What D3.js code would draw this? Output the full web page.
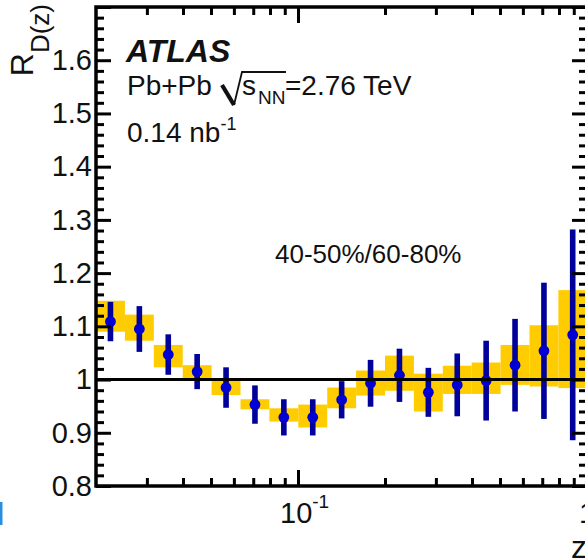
<!DOCTYPE html>
<html>
<head>
<meta charset="utf-8">
<script src="https://cdn.jsdelivr.net/npm/d3@7"></script>
<style>
  html, body { margin: 0; padding: 0; background: #fff; overflow: hidden; }
  svg { display: block; }
  text { font-family: "Liberation Sans", Arial, Helvetica, sans-serif; fill: #111; }
</style>
</head>
<body>
<svg id="chart" width="585" height="560"></svg>
<script>
// Bin edges in z (0.1-decade logarithmic bins)
const zEdges = [0.02, 0.02518, 0.0317, 0.03991, 0.05024, 0.06325, 0.07962, 0.10024,
                0.12619, 0.15887, 0.2, 0.25179, 0.31698, 0.39905, 0.50238, 0.63246, 0.79621, 1.0];
// R_D(z) central values, 40-50% / 60-80%
const ratio   = [1.109, 1.095, 1.047, 1.015, 0.985, 0.953, 0.929, 0.929, 0.962,
                 0.993, 1.008, 0.976, 0.990, 0.998, 1.027, 1.054, 1.084];
// Statistical uncertainty (symmetric)
const statErr = [0.037, 0.043, 0.038, 0.033, 0.038, 0.036, 0.034, 0.034, 0.035,
                 0.044, 0.050, 0.046, 0.059, 0.075, 0.087, 0.128, 0.198];
// Systematic band, lower and upper bounds
const sysLow  = [1.090, 1.073, 1.023, 1.001, 0.971, 0.944, 0.921, 0.910, 0.946,
                 0.970, 0.979, 0.940, 0.973, 0.973, 0.990, 0.987, 0.984];
const sysHigh = [1.148, 1.122, 1.065, 1.027, 0.998, 0.963, 0.946, 0.953, 0.985,
                 1.017, 1.045, 1.011, 1.026, 1.032, 1.065, 1.102, 1.168];

// Axis ticks
const yMajorTicks = [0.8, 0.9, 1.0, 1.1, 1.2, 1.3, 1.4, 1.5, 1.6, 1.7];
const yTickLabels = ["0.8", "0.9", "1", "1.1", "1.2", "1.3", "1.4", "1.5", "1.6"];
const xMajorTicks = [0.1, 1];
const xMinorTicks = [0.03, 0.04, 0.05, 0.06, 0.07, 0.08, 0.09,
                     0.2, 0.3, 0.4, 0.5, 0.6, 0.7, 0.8, 0.9];

const svg = d3.select("#chart");
svg.append("rect").attr("width", 585).attr("height", 560).attr("fill", "#fff");

const x = d3.scaleLog().domain([0.02, 1]).range([96, 587]);
const y = d3.scaleLinear().domain([0.8, 1.7]).range([486, 7]);

const yMinorTicks = d3.range(0, 46).map(i => +(0.8 + i * 0.02).toFixed(2))
  .filter(v => !yMajorTicks.some(m => Math.abs(m - v) < 1e-6));

const bins = ratio.map((v, i) => ({
  lo: zEdges[i], hi: zEdges[i + 1],
  zc: Math.sqrt(zEdges[i] * zEdges[i + 1]),
  v, e: statErr[i], sl: sysLow[i], sh: sysHigh[i]
}));

const plot = svg.append("g");

// systematic boxes
plot.selectAll("rect.sys").data(bins).join("rect")
  .attr("class", "sys")
  .attr("x", d => x(d.lo))
  .attr("width", d => x(d.hi) - x(d.lo))
  .attr("y", d => y(d.sh))
  .attr("height", d => y(d.sl) - y(d.sh))
  .attr("fill", "#ffcc00");

// statistical error bars
plot.selectAll("rect.err").data(bins).join("rect")
  .attr("class", "err")
  .attr("x", d => x(d.zc) - 2.8)
  .attr("width", 5.6)
  .attr("y", d => y(d.v + d.e))
  .attr("height", d => y(d.v - d.e) - y(d.v + d.e))
  .attr("fill", "#00009a");

// markers
plot.selectAll("circle.pt").data(bins).join("circle")
  .attr("class", "pt")
  .attr("cx", d => x(d.zc))
  .attr("cy", d => y(d.v))
  .attr("r", 5.4)
  .attr("fill", "#0000d2");

// unity reference line
plot.append("line")
  .attr("x1", x(0.02)).attr("x2", x(1))
  .attr("y1", y(1)).attr("y2", y(1))
  .attr("stroke", "#000").attr("stroke-width", 3);

// axes (ticks drawn inward on all four sides)
function styleAxis(g) {
  g.select(".domain").remove();
  g.selectAll(".tick line").attr("stroke", "#000").attr("stroke-width", 3);
}
const axes = svg.append("g");
axes.append("g").attr("transform", `translate(${x(0.02)},0)`)
  .call(d3.axisLeft(y).tickValues(yMinorTicks).tickSize(-8).tickFormat(""))
  .call(styleAxis);
const yLeft = axes.append("g").attr("transform", `translate(${x(0.02)},0)`)
  .call(d3.axisLeft(y).tickValues(yMajorTicks).tickSize(-15).tickPadding(4)
    .tickFormat((d, i) => yTickLabels[i] || ""))
  .call(styleAxis);
yLeft.selectAll(".tick text")
  .attr("font-size", 29).attr("fill", "#111")
  .attr("font-family", "'Liberation Sans', Arial, sans-serif");

axes.append("g").attr("transform", `translate(${x(1)},0)`)
  .call(d3.axisRight(y).tickValues(yMinorTicks).tickSize(-8).tickFormat(""))
  .call(styleAxis);
axes.append("g").attr("transform", `translate(${x(1)},0)`)
  .call(d3.axisRight(y).tickValues(yMajorTicks).tickSize(-15).tickFormat(""))
  .call(styleAxis);

axes.append("g").attr("transform", `translate(0,${y(0.8)})`)
  .call(d3.axisBottom(x).tickValues(xMinorTicks).tickSize(-8).tickFormat(""))
  .call(styleAxis);
axes.append("g").attr("transform", `translate(0,${y(0.8)})`)
  .call(d3.axisBottom(x).tickValues(xMajorTicks).tickSize(-16).tickFormat(""))
  .call(styleAxis);
axes.append("g").attr("transform", `translate(0,${y(1.7)})`)
  .call(d3.axisTop(x).tickValues(xMinorTicks).tickSize(-8).tickFormat(""))
  .call(styleAxis);
axes.append("g").attr("transform", `translate(0,${y(1.7)})`)
  .call(d3.axisTop(x).tickValues(xMajorTicks).tickSize(-16).tickFormat(""))
  .call(styleAxis);

// frame
axes.append("rect")
  .attr("x", x(0.02)).attr("y", y(1.7))
  .attr("width", x(1) - x(0.02)).attr("height", y(0.8) - y(1.7))
  .attr("fill", "none").attr("stroke", "#000").attr("stroke-width", 3.5);

// x tick labels
const lab01 = svg.append("text").attr("x", x(0.1) - 18).attr("y", 523).attr("font-size", 29);
lab01.append("tspan").text("10");
lab01.append("tspan").attr("font-size", 19).attr("dy", -15).text("-1");
svg.append("text").attr("x", x(1)).attr("y", 523).attr("font-size", 29)
  .attr("text-anchor", "middle").text("1");

// axis titles
svg.append("text").attr("x", 571).attr("y", 558).attr("font-size", 32).text("z");
const yTitle = svg.append("text")
  .attr("transform", "translate(33,4) rotate(-90)")
  .attr("text-anchor", "end").attr("font-size", 32);
yTitle.append("tspan").text("R");
yTitle.append("tspan").attr("font-size", 26).attr("dy", 16).text("D(z)");

// labels
svg.append("text").attr("x", 126).attr("y", 62)
  .attr("font-size", 32).attr("font-weight", "bold").attr("font-style", "italic").text("ATLAS");
svg.append("text").attr("x", 127).attr("y", 95).attr("font-size", 28).text("Pb+Pb");
// radical sign
svg.append("path").attr("d", "M222,85 L234,105").attr("stroke", "#111").attr("stroke-width", 4.2).attr("fill", "none");
svg.append("path").attr("d", "M234,105 L242,72 L286,72").attr("stroke", "#111").attr("stroke-width", 1.8).attr("fill", "none");
const sq = svg.append("text").attr("y", 95).attr("font-size", 28);
sq.append("tspan").attr("x", 242).text("s");
sq.append("tspan").attr("x", 258).attr("dy", 9).attr("font-size", 19).text("NN");
sq.append("tspan").attr("x", 285).attr("dy", -9).text("=2.76 TeV");

const lumi = svg.append("text").attr("x", 127).attr("y", 142).attr("font-size", 28);
lumi.append("tspan").text("0.14 nb");
lumi.append("tspan").attr("font-size", 18).attr("dy", -12).text("-1");

svg.append("text").attr("x", 275).attr("y", 263).attr("font-size", 26).text("40-50%/60-80%");

// fragment of neighbouring panel at the left edge
svg.append("rect").attr("x", 0).attr("y", 502).attr("width", 2.5).attr("height", 23).attr("fill", "#2a8ee0");
</script>
</body>
</html>
